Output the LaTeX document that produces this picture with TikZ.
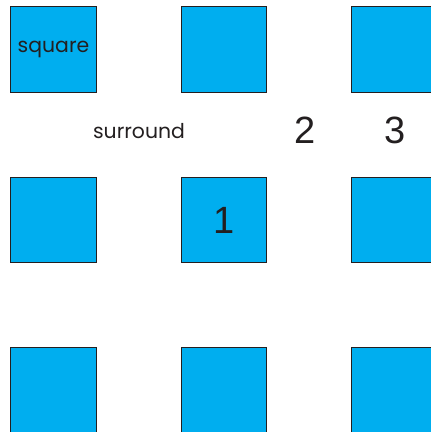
\documentclass[tikz,border=0pt]{standalone}
\usepackage{fontspec}
\setmainfont{Poppins}
\newfontfamily\numfont{Liberation Sans}
\definecolor{boxcyan}{HTML}{00AEEF}
\definecolor{boxline}{HTML}{231F20}
\tikzset{
  tile/.style={draw=boxline,fill=boxcyan,line width=0.6pt,minimum size=42.75pt,inner sep=0pt},
  smalltext/.style={font=\fontsize{10.2}{12}\selectfont,text=boxline},
  bigtext/.style={font=\numfont\fontsize{19}{22}\selectfont,text=boxline}
}
\begin{document}
\begin{tikzpicture}[x=0.5pt,y=-0.5pt]
\useasboundingbox (0,0) rectangle (430,432);

\node[tile] (sqA) at (53.5,49.5) {};
\node[tile] (sqB) at (224,49.5) {};
\node[tile] (sqC) at (394.5,49.5) {};

\node[tile] (sqD) at (53.5,220) {};
\node[tile,bigtext] (sqE) at (224,220) {1};
\node[tile] (sqF) at (394.5,220) {};

\node[tile] (sqG) at (53.5,390.5) {};
\node[tile] (sqH) at (224,390.5) {};
\node[tile] (sqI) at (394.5,390.5) {};

\node[smalltext] (lsquare) at (sqA) {square};
\node[smalltext] (lsurround) at (139,131) {surround};
\node[bigtext] (ltwo) at (305,130) {2};
\node[bigtext] (lthree) at (395,130) {3};
\end{tikzpicture}
\end{document}
